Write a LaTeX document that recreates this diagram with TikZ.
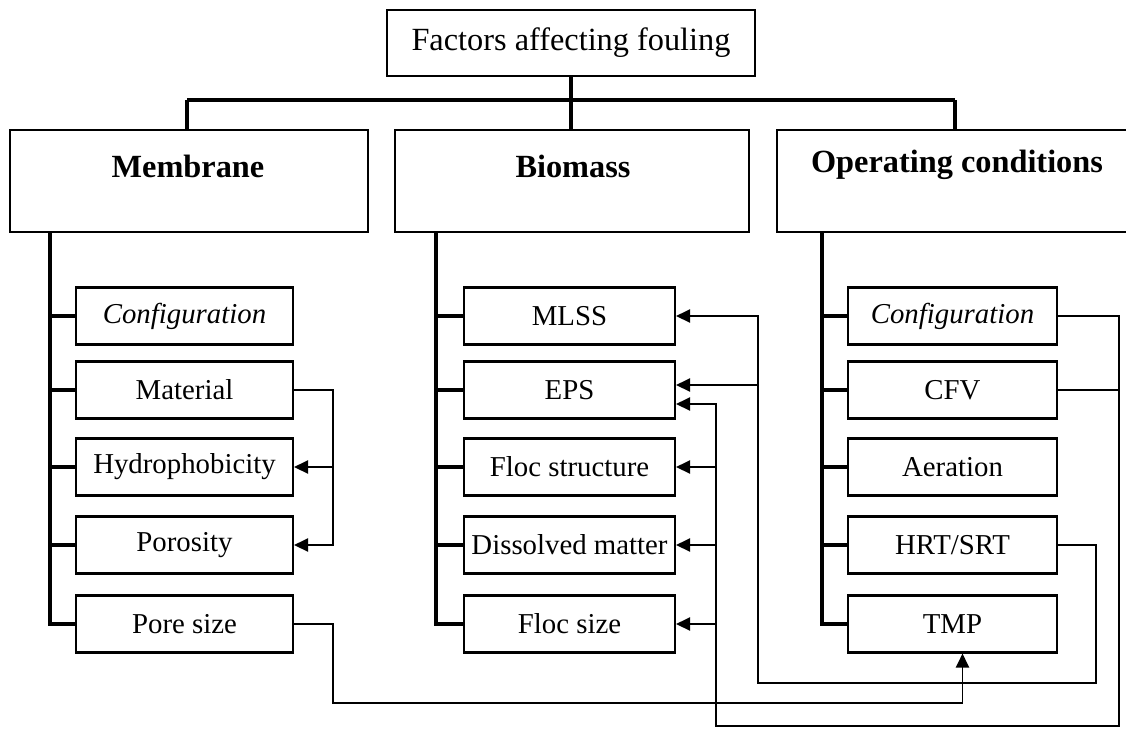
\documentclass[tikz,border=0pt]{standalone}
\usepackage{fontspec}
\setmainfont{Liberation Serif}
\usetikzlibrary{arrows.meta,calc}
\begin{document}
\begin{tikzpicture}[x=0.02cm,y=-0.02cm,
  topbox/.style={draw,line width=1.2pt,minimum width=7.36cm,minimum height=1.32cm,inner sep=0pt,font=\fontsize{18.4}{22}\selectfont},
  catbox/.style={draw,line width=1.2pt,minimum height=2.04cm,inner sep=0pt},
  hdr/.style={inner sep=0pt,font=\bfseries\fontsize{18.4}{22}\selectfont},
  item/.style={draw,line width=1.2pt,minimum height=1.14cm,inner sep=0pt,font=\fontsize{16.4}{20}\selectfont},
  mitem/.style={item,minimum width=4.34cm},
  bitem/.style={item,minimum width=4.22cm},
  oitem/.style={item,minimum width=4.18cm},
  trunk/.style={line width=2pt},
  fb/.style={line width=1pt},
  arr/.style={fb,-{Triangle[length=8pt,width=7.5pt]}}
]
\useasboundingbox (0,0) rectangle (1126,728);
\clip (0,0) rectangle (1126,728);
\fill[white] (0,0) rectangle (1126,728);

% top
\node[topbox] (top) at (571,43) {Factors affecting fouling};

% categories
\node[catbox,minimum width=7.16cm] (mem) at (189,181) {};
\node[catbox,minimum width=7.08cm] (bio) at (572,181) {};
\node[catbox,minimum width=7.26cm] (ope) at (958.5,181) {};
\node[hdr] (memT) at (188,166) {Membrane};
\node[hdr] (bioT) at (573,166) {Biomass};
\node[hdr] (opeT) at (957,165) {Operating conditions};

% membrane items
\node[mitem] (mcfg)  at (184.5,316) {\itshape Configuration};
\node[mitem] (mmat)  at (184.5,390) {Material};
\node[mitem] (mhyd)  at (184.5,467) {Hydrophobicity};
\node[mitem] (mpor)  at (184.5,545) {Porosity};
\node[mitem] (mpore) at (184.5,624) {Pore size};

% biomass items
\node[bitem] (bmlss) at (569.5,316) {MLSS};
\node[bitem] (beps)  at (569.5,390) {EPS};
\node[bitem] (bfst)  at (569.5,467) {Floc structure};
\node[bitem] (bdis)  at (569.5,545) {Dissolved matter};
\node[bitem] (bfsz)  at (569.5,624) {Floc size};

% operating items
\node[oitem] (ocfg) at (952.5,316) {\itshape Configuration};
\node[oitem] (ocfv) at (952.5,390) {CFV};
\node[oitem] (oaer) at (952.5,467) {Aeration};
\node[oitem] (ohrt) at (952.5,545) {HRT/SRT};
\node[oitem] (otmp) at (952.5,624) {TMP};

% tree bus
\coordinate (bus) at (571,100);
\coordinate (bl) at (187,100);
\coordinate (br) at (955,100);
\draw[trunk] (top.south) -- (bus);
\draw[trunk] (bl) -- (br);
\draw[trunk] (bl) -- (bl |- mem.north);
\draw[trunk] (bus) -- (bus |- bio.north);
\draw[trunk] (br) -- (br |- ope.north);

% trunks
\coordinate (mt) at (50,232);
\coordinate (bt) at (436,232);
\coordinate (ot) at (822,232);
\draw[trunk] (mt) |- (mpore.west);
\foreach \n in {mcfg,mmat,mhyd,mpor} \draw[trunk] (mt |- \n.west) -- (\n.west);
\draw[trunk] (bt) |- (bfsz.west);
\foreach \n in {bmlss,beps,bfst,bdis} \draw[trunk] (bt |- \n.west) -- (\n.west);
\draw[trunk] (ot) |- (otmp.west);
\foreach \n in {ocfg,ocfv,oaer,ohrt} \draw[trunk] (ot |- \n.west) -- (\n.west);

% membrane feedback
\coordinate (mx) at (333,0);
\draw[arr] (mmat.east) -| (mx |- mhyd.east) |- (mpor.east);
\draw[arr] (mx |- mhyd.east) -- (mhyd.east);

% HRT/SRT -> MLSS, EPS
\coordinate (hx) at (1096,683);
\coordinate (lx) at (758,0);
\coordinate (epsU) at ($(beps.east)+(0,-5)$);
\coordinate (epsL) at ($(beps.east)+(0,14)$);
\draw[arr] (ohrt.east) -| (hx) -| (lx |- bmlss.east) -- (bmlss.east);
\draw[arr] (lx |- epsU) -- (epsU);

% Configuration, CFV -> EPS, floc structure, dissolved matter, floc size
\coordinate (cx) at (1119,726);
\coordinate (dx) at (716,0);
\draw[arr] (ocfg.east) -| (cx) -| (dx |- epsL) -- (epsL);
\draw[fb] (ocfv.east) -- (ocfv.east -| cx);
\foreach \n in {bfst,bdis,bfsz} \draw[arr] (dx |- \n.east) -- (\n.east);

% Pore size -> TMP
\coordinate (px) at (333,703);
\coordinate (tmpIn) at ($(otmp.south)+(10,0)$);
\draw[arr] (mpore.east) -| (px) -| (tmpIn);
\end{tikzpicture}
\end{document}
